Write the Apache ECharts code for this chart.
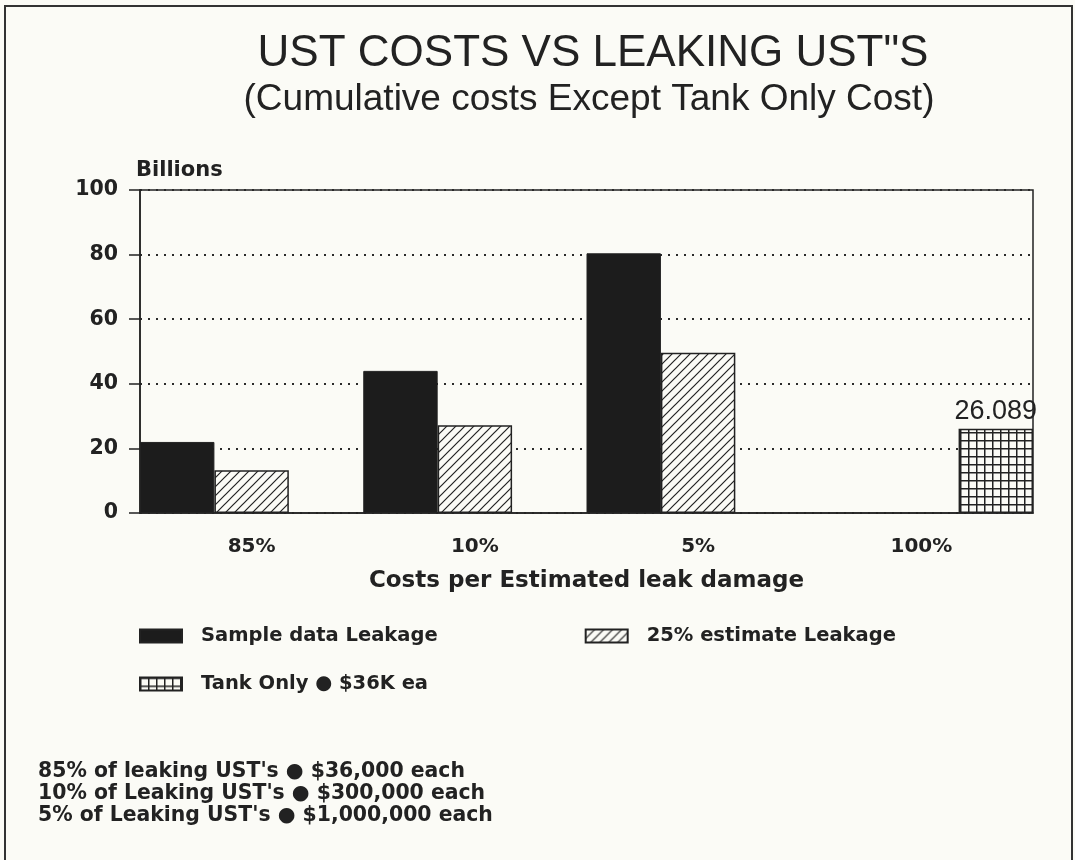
<!DOCTYPE html>
<html lang="en">
  <head>
    <meta charset="UTF-8" />
    <title>UST costs vs leaking UST's</title>
    <script src="https://cdn.jsdelivr.net/npm/echarts@6/dist/echarts.min.js"></script>
    <style>
      body { margin: 0; background: #fbfbf6; }
      #chart { width: 1075px; height: 860px; }
    </style>
  </head>
  <body>
    <div id="chart"></div>
    <script>
      // chart data
      var categories = ['85%', '10%', '5%', '100%'];
      var sampleLeakage = [22.0, 44.0, 80.4, null];
      var estimateLeakage = [13.2, 27.2, 49.6, null];
      var tankOnly = [null, null, null, 26.089];
      var seriesNames = ['Sample data Leakage', '25% estimate Leakage', 'Tank Only ● $36K ea'];

      var titleText = 'UST COSTS VS LEAKING UST"S';
      var subtitleText = '(Cumulative costs Except Tank Only Cost)';
      var footnotes = [
        "85% of leaking UST's ● $36,000 each",
        "10% of Leaking UST's ● $300,000 each",
        "5% of Leaking UST's ● $1,000,000 each"
      ];

      var bg = '#fbfbf6';
      var ink = '#222';
      var boldFont = 'DejaVu Sans';

      // hatch "/" pattern
      function hatchPattern() {
        var c = document.createElement('canvas');
        var s = 9;
        c.width = s;
        c.height = s;
        var ctx = c.getContext('2d');
        ctx.fillStyle = bg;
        ctx.fillRect(0, 0, s, s);
        ctx.strokeStyle = ink;
        ctx.lineWidth = 1.2;
        ctx.beginPath();
        ctx.moveTo(-1, s + 1);
        ctx.lineTo(s + 1, -1);
        ctx.moveTo(-s / 2 - 1, s / 2 + 1);
        ctx.lineTo(s / 2 + 1, -s / 2 - 1);
        ctx.moveTo(s / 2 - 1, s * 1.5 + 1);
        ctx.lineTo(s * 1.5 + 1, s / 2 - 1);
        ctx.stroke();
        return c;
      }

      // square grid pattern
      function gridPattern() {
        var c = document.createElement('canvas');
        var s = 8;
        c.width = s;
        c.height = s;
        var ctx = c.getContext('2d');
        ctx.fillStyle = bg;
        ctx.fillRect(0, 0, s, s);
        ctx.fillStyle = ink;
        ctx.fillRect(0, 0, s, 1.5);
        ctx.fillRect(0, 0, 1.5, s);
        return c;
      }

      var chart = echarts.init(document.getElementById('chart'));

      var legendText = {
        color: ink,
        fontSize: 19.5,
        fontWeight: 'bold',
        fontFamily: boldFont,
        padding: [0, 0, 0, 14]
      };

      var option = {
        backgroundColor: bg,
        animation: false,
        grid: {
          show: true,
          left: 140,
          right: 42,
          top: 190,
          bottom: 347,
          borderColor: ink,
          borderWidth: 1.5
        },
        legend: [
          {
            data: [seriesNames[0], seriesNames[1]],
            left: 139,
            top: 626,
            padding: 0,
            icon: 'rect',
            itemWidth: 42,
            itemHeight: 13,
            itemGap: 147,
            selectedMode: false,
            textStyle: legendText
          },
          {
            data: [seriesNames[2]],
            left: 139,
            top: 674,
            padding: 0,
            icon: 'rect',
            itemWidth: 42,
            itemHeight: 13,
            selectedMode: false,
            textStyle: legendText
          }
        ],
        xAxis: {
          type: 'category',
          data: categories,
          name: 'Costs per Estimated leak damage',
          nameLocation: 'middle',
          nameGap: 57,
          nameTextStyle: {
            color: ink,
            fontSize: 23,
            fontWeight: 'bold',
            fontFamily: boldFont
          },
          axisLine: { lineStyle: { color: ink, width: 1.5 } },
          axisTick: { alignWithLabel: true, length: 10, lineStyle: { color: ink, width: 1.5 } },
          axisLabel: {
            color: ink,
            fontSize: 20,
            fontWeight: 'bold',
            fontFamily: boldFont,
            margin: 24
          }
        },
        yAxis: {
          type: 'value',
          min: 0,
          max: 100,
          interval: 20,
          name: 'Billions',
          nameLocation: 'end',
          nameGap: 9,
          nameTextStyle: {
            color: ink,
            fontSize: 21,
            fontWeight: 'bold',
            fontFamily: boldFont,
            align: 'left',
            padding: [0, 0, 0, -4]
          },
          axisLine: { show: true, lineStyle: { color: ink, width: 1.5 } },
          axisTick: { show: true, length: 11, lineStyle: { color: ink, width: 1.5 } },
          axisLabel: {
            color: ink,
            fontSize: 20.5,
            fontWeight: 'bold',
            fontFamily: boldFont,
            margin: 22
          },
          splitLine: {
            lineStyle: { color: '#2a2a2a', width: 2, type: [2, 6] }
          }
        },
        series: [
          {
            name: seriesNames[0],
            type: 'bar',
            data: sampleLeakage,
            barGap: '0%',
            barCategoryGap: '0%',
            itemStyle: { color: '#1c1c1c', borderColor: ink, borderWidth: 1 }
          },
          {
            name: seriesNames[1],
            type: 'bar',
            data: estimateLeakage,
            itemStyle: {
              color: { image: hatchPattern(), repeat: 'repeat' },
              borderColor: ink,
              borderWidth: 1.5
            }
          },
          {
            name: seriesNames[2],
            type: 'bar',
            data: tankOnly,
            itemStyle: {
              color: { image: gridPattern(), repeat: 'repeat' },
              borderColor: ink,
              borderWidth: 1.5
            },
            label: {
              show: true,
              position: 'top',
              distance: 4,
              color: ink,
              fontSize: 27,
              fontFamily: 'Liberation Sans'
            }
          }
        ],
        graphic: [
          {
            type: 'rect',
            silent: true,
            z: -1,
            shape: { x: 5, y: 6, width: 1067, height: 900 },
            style: { fill: 'none', stroke: '#333', lineWidth: 2 }
          },
          {
            type: 'text',
            x: 593,
            y: 54,
            style: {
              text: titleText,
              align: 'center',
              verticalAlign: 'middle',
              fill: ink,
              fontSize: 44,
              fontFamily: 'Liberation Sans'
            }
          },
          {
            type: 'text',
            x: 589,
            y: 100,
            style: {
              text: subtitleText,
              align: 'center',
              verticalAlign: 'middle',
              fill: ink,
              fontSize: 37,
              fontFamily: 'Liberation Sans'
            }
          },
          {
            type: 'text',
            x: 38,
            y: 761,
            style: {
              text: footnotes.join('\n'),
              fill: ink,
              fontSize: 20.4,
              lineHeight: 21.8,
              fontWeight: 'bold',
              fontFamily: boldFont
            }
          }
        ]
      };

      chart.setOption(option);
    </script>
  </body>
</html>
